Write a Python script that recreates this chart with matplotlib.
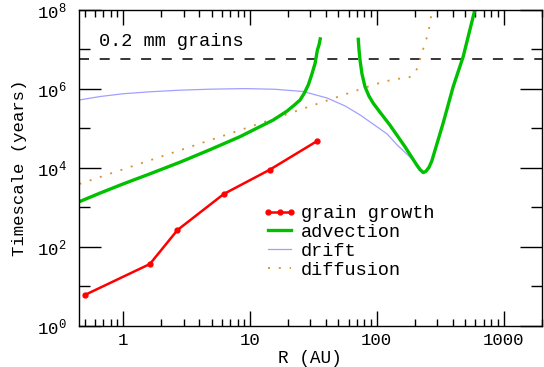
import numpy as np
import matplotlib
matplotlib.use("Agg")
import matplotlib.pyplot as plt
from matplotlib.ticker import FixedLocator, NullFormatter, LogLocator

plt.rcParams['font.family'] = ['Liberation Mono', 'DejaVu Sans']
plt.rcParams['mathtext.fontset'] = 'custom'
plt.rcParams['mathtext.rm'] = 'Liberation Mono'
plt.rcParams['mathtext.it'] = 'Liberation Mono'
plt.rcParams['lines.scale_dashes'] = False

# grain growth timescale (markers)
growth_r = [0.50, 1.63, 2.69, 6.24, 14.3, 34.0]
growth_t = [6.0, 36.6, 266, 2180, 8900, 48000]

# advection, inner branch
adv1_r = [0.453, 0.663, 1.0, 1.64, 2.83, 4.87, 8.39, 11.0, 15.3, 19.7, 22.7,
          24.9, 26.8, 28.9, 30.7, 32.7, 34.1, 35.1, 35.9]
adv1_t = [1390, 2310, 3900, 7100, 1.4e4, 2.9e4, 6.2e4, 9.6e4, 1.63e5, 2.76e5,
          4.03e5, 5.25e5, 7.7e5, 1.26e6, 2.26e6, 4.46e6, 9.7e6, 1.3e7, 1.85e7]
# advection, outer branch
adv2_r = [71.6, 72.6, 73.9, 76.6, 80.9, 86.9, 94, 106, 127, 167, 207, 219, 233,
          244, 258, 272, 334, 401, 481, 594]
adv2_t = [1.81e7, 9.7e6, 5.41e6, 2.39e6, 1.14e6, 6.6e5, 4.33e5, 2.59e5, 1.22e5,
          3.44e4, 1.18e4, 9.1e3, 7.6e3, 8.1e3, 1.02e4, 1.49e4, 1.35e5, 1.14e6,
          6.6e6, 1.0e8]

# drift
drift_r = [0.453, 0.663, 1.0, 1.64, 2.83, 4.87, 9.18, 15.8, 26.3, 40.6, 56.4,
           74, 93.7, 121, 145, 173, 208, 232]
drift_t = [5.25e5, 6.43e5, 7.54e5, 8.47e5, 9.3e5, 9.85e5, 1.02e6, 9.8e5, 8.6e5,
           5.9e5, 3.7e5, 2.19e5, 1.29e5, 7.2e4, 3.8e4, 2.24e4, 1.25e4, 7.9e3]

# diffusion
diff_r = [0.453, 9.2, 67.5, 97, 139, 172, 190, 200, 211, 219, 240, 255, 271, 275]
diff_t = [3.9e3, 1.0e5, 8.87e5, 1.31e6, 1.79e6, 1.86e6, 2.13e6, 2.49e6, 3.6e6,
          5.4e6, 1.43e7, 2.57e7, 8.3e7, 1.0e8]

age = 5.7e6  # dashed reference line

fig = plt.figure(figsize=(5.44, 3.67), dpi=100)
ax = fig.add_axes([79/544, 1-325.7/367, (541.7-79)/544, (325.7-10)/367])

ax.axhline(age, color='black', lw=1.1, ls=(0, (7.2, 7.7)))
ax.plot(drift_r, drift_t, color='#a0a0ff', lw=0.9, label='drift')
ax.plot(diff_r, diff_t, color='#d89030', lw=1.3, ls=(0, (1.4, 6.4)), label='diffusion')
ax.plot(adv1_r, adv1_t, color='#00c000', lw=2.4, label='advection')
ax.plot(adv2_r, adv2_t, color='#00c000', lw=2.4)
ax.plot(growth_r, growth_t, color='#ff0000', lw=1.8, marker='o', ms=3.5,
        label='grain growth')

ax.set_xscale('log')
ax.set_yscale('log')
ax.set_xlim(0.45, 2000)
ax.set_ylim(1, 1e8)

ax.text(0.65, 1.55e7, '0.2 mm grains', fontsize=13.4, va='center', ha='left')

ax.yaxis.set_major_locator(FixedLocator([1, 1e2, 1e4, 1e6, 1e8]))
ax.yaxis.set_minor_locator(FixedLocator([10, 1e3, 1e5, 1e7]))
ax.yaxis.set_minor_formatter(NullFormatter())
ax.set_yticklabels([r'$10^{%d}$' % e for e in [0, 2, 4, 6, 8]])
ax.xaxis.set_major_locator(FixedLocator([1, 10, 100, 1000]))
ax.xaxis.set_minor_locator(LogLocator(base=10, subs=np.arange(2, 10)))
ax.xaxis.set_minor_formatter(NullFormatter())
ax.set_xticklabels(['1', '10', '100', '1000'])

ax.tick_params(axis='both', which='both', direction='in', top=True, right=True,
               labelsize=12.5, color='black', width=1.0)
ax.tick_params(axis='x', which='major', length=10.8, pad=5)
ax.tick_params(axis='x', which='minor', length=5.3)
ax.tick_params(axis='y', which='major', length=16, pad=9)
ax.tick_params(axis='y', which='minor', length=8)
for s in ax.spines.values():
    s.set_linewidth(1.0)

ax.set_xlabel('R (AU)', fontsize=12.8, labelpad=2)
ax.set_ylabel('Timescale (years)', fontsize=12.5, labelpad=7)

h, l = ax.get_legend_handles_labels()
order = [3, 2, 0, 1]
ax.legend([h[i] for i in order], [l[i] for i in order], frameon=False,
          loc='upper left', bbox_to_anchor=(262.7/544, 1-205/367),
          bbox_transform=fig.transFigure, fontsize=13.4, numpoints=3,
          handlelength=1.83, handletextpad=0.22, labelspacing=0.1,
          borderpad=0, borderaxespad=0)

fig.savefig('out.png', dpi=100)
